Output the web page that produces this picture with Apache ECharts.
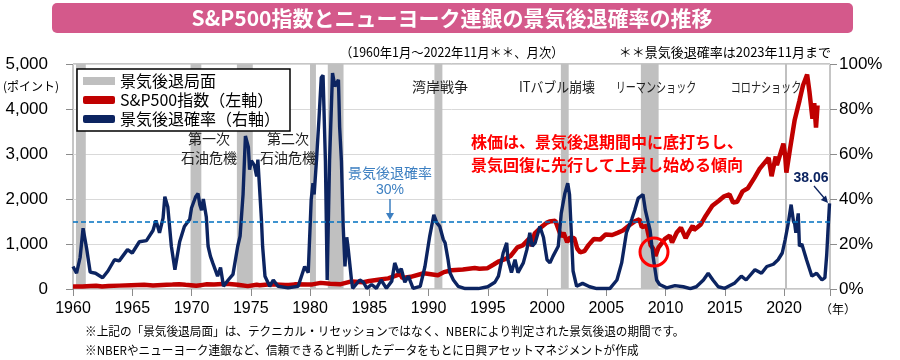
<!DOCTYPE html>
<html>
<head>
<meta charset="utf-8">
<script src="https://cdn.jsdelivr.net/npm/echarts@6/dist/echarts.min.js"></script>
<style>html,body{margin:0;padding:0;background:#fff}#main{width:900px;height:360px}</style>
</head>
<body>
<div id="main"></div>
<script>
// ---- data ----
const spYears = [1960.0,1960.8,1961.5,1961.95,1962.45,1963.0,1963.9,1964.9,1966.0,1966.75,1967.9,1968.4,1968.95,1969.5,1970.4,1970.95,1971.3,1971.9,1972.95,1973.9,1974.75,1975.5,1975.75,1976.7,1977.9,1978.2,1978.7,1979.8,1980.2,1980.9,1981.7,1982.6,1983.5,1984.5,1985.0,1985.9,1986.6,1987.6,1987.8,1988.5,1989.6,1990.8,1991.3,1991.95,1992.9,1993.9,1994.3,1994.95,1995.5,1995.95,1996.5,1996.95,1997.5,1997.95,1998.5,1998.7,1998.95,1999.5,1999.95,2000.2,2000.7,2001.2,2001.4,2001.7,2001.95,2002.3,2002.55,2002.8,2003.15,2003.5,2003.95,2004.5,2004.95,2005.5,2005.95,2006.4,2006.95,2007.4,2007.8,2008.0,2008.4,2008.75,2008.95,2009.15,2009.4,2009.95,2010.35,2010.55,2010.95,2011.3,2011.7,2011.95,2012.3,2012.4,2012.95,2013.4,2013.95,2014.5,2014.95,2015.4,2015.7,2016.05,2016.5,2016.95,2017.5,2017.95,2018.1,2018.7,2018.95,2019.3,2019.4,2019.95,2020.1,2020.2,2020.5,2020.9,2021.3,2021.6,2021.95,2022.15,2022.4,2022.55,2022.7,2022.83];
const spValues = [58,53,66,71,55,66,75,84,92,77,96,98,106,92,72,92,104,98,118,96,64,95,84,105,90,89,103,102,102,136,116,107,168,150,179,211,236,330,245,270,350,306,375,417,435,466,450,459,545,616,670,740,925,970,1120,957,1229,1372,1469,1498,1517,1160,1250,1040,1148,1130,900,815,841,975,1112,1100,1212,1200,1248,1300,1418,1503,1549,1378,1400,968,903,735,919,1115,1187,1030,1257,1363,1131,1257,1408,1310,1426,1630,1848,1960,2059,2105,1920,1940,2170,2239,2470,2674,2640,2914,2507,2945,2752,3230,2954,2585,3100,3756,4181,4523,4766,4374,3785,4130,3586,4080];

const probYears = [1960.0,1960.3,1960.6,1960.85,1960.95,1961.15,1961.45,1961.9,1962.5,1962.95,1963.5,1963.9,1964.6,1965.0,1965.6,1966.2,1966.75,1967.0,1967.3,1967.6,1967.75,1968.0,1968.3,1968.6,1969.0,1969.4,1969.85,1970.0,1970.35,1970.55,1970.7,1970.85,1971.0,1971.25,1971.4,1971.6,1971.8,1972.2,1972.45,1972.7,1973.1,1973.5,1973.9,1974.1,1974.35,1974.55,1974.8,1974.9,1975.05,1975.3,1975.5,1975.6,1975.9,1976.0,1976.2,1976.6,1976.9,1977.3,1978.15,1979.0,1979.55,1979.85,1980.1,1980.25,1980.35,1980.55,1980.75,1980.95,1981.1,1981.3,1981.45,1981.65,1981.9,1982.1,1982.4,1982.5,1982.65,1982.8,1982.95,1983.1,1983.2,1983.5,1983.6,1984.2,1984.5,1984.8,1985.2,1985.6,1986.0,1986.45,1986.9,1987.15,1987.45,1987.7,1988.0,1988.3,1988.7,1989.3,1989.7,1990.1,1990.45,1990.7,1990.95,1991.25,1991.4,1991.65,1991.8,1992.1,1992.5,1993.1,1994.2,1995.0,1995.6,1995.9,1996.3,1996.6,1996.7,1997.0,1997.3,1997.55,1998.0,1998.3,1998.55,1998.75,1999.0,1999.4,1999.7,2000.0,2000.25,2000.5,2000.95,2001.2,2001.5,2001.75,2001.9,2002.05,2002.2,2002.5,2003.0,2003.6,2004.2,2005.3,2005.9,2006.3,2006.7,2007.15,2007.4,2007.7,2008.1,2008.3,2008.7,2008.95,2009.25,2009.5,2010.1,2010.8,2011.5,2012.1,2012.6,2013.2,2013.6,2014.0,2014.45,2015.0,2015.85,2016.4,2016.8,2017.55,2018.1,2018.55,2019.1,2019.5,2019.85,2020.1,2020.35,2020.6,2020.8,2020.9,2021.0,2021.2,2021.3,2021.5,2021.9,2022.35,2022.75,2023.2,2023.45,2023.6,2023.7,2023.84];
const probValues = [10,7,14,27,27.5,18,7.5,7,5,8,13,12.5,17.5,16,21,21.5,26,30.5,25,31.5,41,36.5,19,8.6,21,27.8,31,36,41,42.4,37.5,35,40,32,19,14.5,11.5,5.7,9.5,1.2,4,6.5,19,23.5,42,68,63,53,57,55,50,57.5,31,19,5.7,1.2,4,1.2,0.5,1.2,10,7.3,39.7,47,42,57.5,75,94,95,57,4,57,96,90,93,72,57,28,10,23,19,4,0.3,4,3,0.3,2,0.3,4,0.3,3.5,11.6,7.3,9,3,5.7,0.3,1.2,10,23.4,33,29.4,27.8,22,20.5,13,7.3,4,1.2,0.2,0.2,1,3,5.7,16,20.5,13,7.3,13,7.3,11.6,17.5,25,19,20.5,27.8,23,13,11.6,14.5,19,33.6,42.4,47,42,25,8,1.2,2.5,1,0.2,0.2,4,11.6,25,31,35,40.4,42,35,26,14.5,4,2,0.5,1.5,1,0.2,1,4,7,4,1,0.3,2.7,5.7,4,8.6,7,10,11,13,16,22,29,37.5,30,29,25,33.6,19,20,13,5.7,7,4,5,15,25,38.06];

const recessionStart = [1960.25,1969.92,1973.83,1980.0,1981.5,1990.5,2001.17,2007.92,2020.08];
const recessionEnd   = [1961.08,1970.83,1975.17,1980.5,1982.83,1991.17,2001.83,2009.42,2020.25];

const leftTicks = [0,1000,2000,3000,4000,5000];
const threshold = 30;

// ---- chart ----
const JP = "'Noto Sans CJK JP', sans-serif";
const LAT = "'Liberation Sans', 'Noto Sans CJK JP', sans-serif";
const spData = spYears.map((y,i)=>[y, spValues[i]]);
const probData = probYears.map((y,i)=>[y, probValues[i]]);
const bands = recessionStart.map((s,i)=>[{xAxis:s},{xAxis:recessionEnd[i]}]);

const chart = echarts.init(document.getElementById('main'), null, {renderer:'canvas'});
function comma(v){ return String(v).replace(/\B(?=(\d{3})+(?!\d))/g, ','); }
const txt = (x,y,t,o,sx) => ({type:'text', x:x, y:y, z:100, scaleX:sx||1,
  style:Object.assign({text:t, fill:'#222', font:'14px '+JP, textVerticalAlign:'middle'}, o||{})});

chart.setOption({
  animation:false,
  backgroundColor:'#fff',
  grid:{left:73, right:70, top:64, bottom:71, show:true, borderColor:'#8c8c8c', borderWidth:1},
  legend:{
    left:77, top:69, orient:'vertical', itemGap:3, itemWidth:32, itemHeight:8, itemTextGap:8,
    padding:[4,10,4,6], backgroundColor:'#fff', borderColor:'#000', borderWidth:1.5, borderRadius:0,
    textStyle:{fontSize:16, color:'#000', fontFamily:JP},
    data:[{name:'景気後退局面', icon:'rect'},{name:'S&P500指数（左軸）', icon:'roundRect'},{name:'景気後退確率（右軸）', icon:'roundRect'}]
  },
  xAxis:{type:'value', min:1960, max:2023.88, interval:5,
    axisLine:{show:false}, splitLine:{show:false},
    axisTick:{show:true, length:7, lineStyle:{color:'#8c8c8c'}},
    axisLabel:{formatter:v=> (Math.abs(v%5)<1e-6 ? String(Math.round(v)) : ''), fontSize:16, color:'#000', margin:12, fontFamily:LAT}
  },
  yAxis:[
    {type:'value', min:leftTicks[0], max:leftTicks[leftTicks.length-1], interval:1000, position:'left',
     axisLine:{show:false}, axisTick:{show:true, length:7, lineStyle:{color:'#8c8c8c'}},
     splitLine:{show:true, lineStyle:{color:'#d9d9d9', width:1}},
     axisLabel:{formatter:v=>comma(v), fontSize:17, color:'#000', margin:25, fontFamily:LAT}},
    {type:'value', min:0, max:100, interval:20, position:'right',
     axisLine:{show:false}, axisTick:{show:true, length:7, lineStyle:{color:'#8c8c8c'}},
     splitLine:{show:false},
     axisLabel:{formatter:'{value}%', fontSize:17, color:'#000', margin:9, fontFamily:LAT}}
  ],
  series:[
    {name:'景気後退局面', type:'line', data:[], color:'#bfbfbf', silent:true,
     markArea:{silent:true, itemStyle:{color:'#c0c0c0'}, data:bands}},
    {name:'S&P500指数（左軸）', type:'line', yAxisIndex:0, data:spData, symbol:'none', color:'#c00000',
     lineStyle:{width:4.5, color:'#c00000'}, z:3},
    {name:'景気後退確率（右軸）', type:'line', yAxisIndex:1, data:probData, symbol:'none', color:'#0c2461',
     lineStyle:{width:3.4, color:'#0c2461'}, z:4,
     markLine:{silent:true, symbol:'none', label:{show:false},
       lineStyle:{color:'#0070c0', type:[5,3], width:1.5}, data:[{yAxis:threshold}]}}
  ],
  graphic:[
    {type:'rect', z:100, shape:{x:52, y:3, width:801, height:30, r:5}, style:{fill:'#d4598b'}},
    txt(452,18,'S&P500指数とニューヨーク連銀の景気後退確率の推移',{fill:'#fff', font:'bold 21px '+JP, textAlign:'center'}),
    txt(340,52,'（1960年1月～2022年11月＊＊、月次）',{font:'13px '+JP, fill:'#000'},0.95),
    txt(831,52,'＊＊景気後退確率は2023年11月まで',{font:'13px '+JP, fill:'#000', textAlign:'right'}),
    txt(3,86,'(ポイント)',{font:'12px '+JP, fill:'#000'}),
    txt(209,139,'第一次',{textAlign:'center'}),
    txt(209,158,'石油危機',{textAlign:'center'}),
    txt(288,139,'第二次',{textAlign:'center'}),
    txt(288,158,'石油危機',{textAlign:'center'}),
    txt(440,87,'湾岸戦争',{textAlign:'center'}),
    txt(557,87,'ITバブル崩壊',{textAlign:'center'},0.92),
    txt(656,87,'リーマンショック',{textAlign:'center'},0.72),
    txt(766,87,'コロナショック',{textAlign:'center'},0.72),
    txt(471,142,'株価は、景気後退期間中に底打ちし、',{fill:'#ff0000', font:'bold 16px '+JP}),
    txt(471,165,'景気回復に先行して上昇し始める傾向',{fill:'#ff0000', font:'bold 16px '+JP}),
    txt(390,173,'景気後退確率',{fill:'#3c7fc1', textAlign:'center'}),
    txt(390,190,'30%',{fill:'#3c7fc1', textAlign:'center', font:'14px '+LAT}),
    {type:'line', z:100, shape:{x1:390, y1:199, x2:390, y2:214}, style:{stroke:'#3c7fc1', lineWidth:1.5}},
    {type:'polygon', z:100, shape:{points:[[386,213],[394,213],[390,220]]}, style:{fill:'#3c7fc1'}},
    txt(811,178,'38.06',{fill:'#0c2461', textAlign:'center', font:'bold 14px '+LAT}),
    {type:'line', z:100, shape:{x1:814, y1:186, x2:825, y2:199}, style:{stroke:'#0c2461', lineWidth:1.3}},
    {type:'polygon', z:100, shape:{points:[[828,203],[820.8,200],[826,195.4]]}, style:{fill:'#0c2461'}},
    {type:'circle', z:100, shape:{cx:654, cy:252, r:14}, style:{fill:'none', stroke:'#ff0000', lineWidth:3}},
    txt(820,309,'（年）',{font:'12px '+JP, fill:'#000'}),
    txt(85,331,'※上記の「景気後退局面」は、テクニカル・リセッションではなく、NBERにより判定された景気後退の期間です。',{font:'12px '+JP, fill:'#000'},0.97),
    txt(85,350,'※NBERやニューヨーク連銀など、信頼できると判断したデータをもとに日興アセットマネジメントが作成',{font:'12px '+JP, fill:'#000'},0.97)
  ]
});
</script>
</body>
</html>
